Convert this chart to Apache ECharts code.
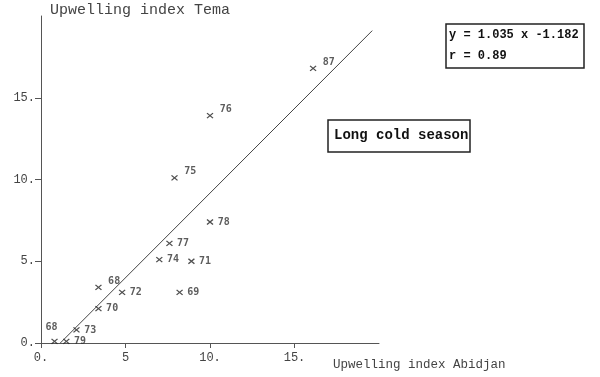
<!DOCTYPE html>
<html><head><meta charset="utf-8">
<script src="https://cdn.jsdelivr.net/npm/echarts@6/dist/echarts.min.js"></script>
<style>html,body{margin:0;padding:0;background:#fff}#c{width:600px;height:377px}</style>
</head><body><div id="c"></div>
<script>
// Data
const years   = ['87','76','75','78','77','74','71','69','72','68','70','73','79','68'];
const abidjan = [16.1, 10.0, 7.9, 10.0, 7.6, 7.0, 8.9, 8.2, 4.8, 3.4, 3.4, 2.1, 1.5, 0.8];
const tema    = [16.8, 13.9, 10.1, 7.4, 6.1, 5.1, 5.0, 3.1, 3.1, 3.4, 2.1, 0.8, 0.1, 0.1];
const slope = 1.035;
const intercept = -1.182;
const fitRange = [1.142, 19.6];
const xTicks = [0, 5, 10, 15];
const yTicks = [0, 5, 10, 15];
const xTickLabels = ['0.', '5', '10.', '15.'];
const yTickLabels = ['0.', '5.', '10.', '15.'];

const superscript = new Set(['87','76','75']);
const points = abidjan.map((x, i) => {
  const item = { value: [x, tema[i]], name: years[i] };
  if (superscript.has(years[i]) || (years[i] === '68' && i === 9)) {
    item.label = { offset: [2, -6] };
  }
  if (i === 13) {
    item.label = { position: 'top', offset: [-3, -2] };
  }
  return item;
});
const fitLine = fitRange.map(x => [x, slope * x + intercept]);

const mono = 'Liberation Mono';
const chart = echarts.init(document.getElementById('c'), null, { renderer: 'canvas' });
chart.setOption({
  animation: false,
  backgroundColor: '#fff',
  grid: { left: 41, right: 221, top: 16, bottom: 34, containLabel: false },
  xAxis: {
    type: 'value', min: 0, max: 20, interval: 5,
    splitLine: { show: false },
    axisLine: { lineStyle: { color: '#555', width: 1 } },
    axisTick: { customValues: xTicks, length: 5, lineStyle: { color: '#555' } },
    axisLabel: {
      customValues: xTicks,
      formatter: v => xTickLabels[xTicks.indexOf(v)] || '',
      fontFamily: mono, fontSize: 12, color: '#444', margin: 9
    }
  },
  yAxis: {
    type: 'value', min: 0, max: 20, interval: 5,
    splitLine: { show: false },
    axisLine: { lineStyle: { color: '#555', width: 1 } },
    axisTick: { customValues: yTicks, length: 6, lineStyle: { color: '#555' } },
    axisLabel: {
      customValues: yTicks,
      formatter: v => yTickLabels[yTicks.indexOf(v)] || '',
      fontFamily: mono, fontSize: 12, color: '#444', margin: 6
    }
  },
  series: [
    {
      type: 'line', data: fitLine, symbol: 'none',
      lineStyle: { color: '#444', width: 1 }, z: 1
    },
    {
      type: 'scatter', data: points,
      symbol: 'path://M0,0L10,10M10,0L0,10', symbolSize: [6, 5],
      itemStyle: { color: '#222', borderColor: '#222', borderWidth: 1.2 },
      label: {
        show: true, position: 'right', distance: 4,
        formatter: p => p.name,
        fontFamily: 'DejaVu Sans Mono', fontSize: 10, fontWeight: 'bold', color: '#333'
      },
      z: 2
    }
  ],
  graphic: [
    { type: 'text', left: 50, top: 3,
      style: { text: 'Upwelling index Tema', font: '15px "Liberation Mono"', fill: '#444' } },
    { type: 'text', left: 333, top: 358,
      style: { text: 'Upwelling index Abidjan', font: '12.5px "Liberation Mono"', fill: '#444' } },
    { type: 'rect', shape: { x: 446, y: 24, width: 138, height: 44 },
      style: { fill: '#fff', stroke: '#222', lineWidth: 1.5 } },
    { type: 'text', left: 449, top: 29,
      style: { text: 'y = 1.035 x -1.182', font: 'bold 12px "Liberation Mono"', fill: '#111' } },
    { type: 'text', left: 449, top: 50,
      style: { text: 'r = 0.89', font: 'bold 12px "Liberation Mono"', fill: '#111' } },
    { type: 'rect', shape: { x: 328, y: 120, width: 142, height: 32 },
      style: { fill: '#fff', stroke: '#222', lineWidth: 1.5 } },
    { type: 'text', left: 334, top: 128,
      style: { text: 'Long cold season', font: 'bold 14px "Liberation Mono"', fill: '#111' } }
  ]
});
</script></body></html>
